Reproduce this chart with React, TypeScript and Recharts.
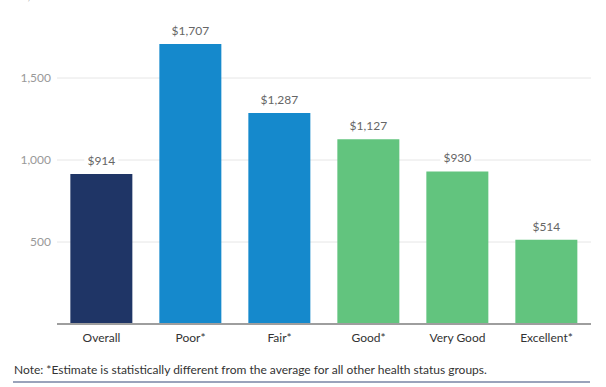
import React from "react";
import { BarChart, Bar, XAxis, YAxis, CartesianGrid, Cell, LabelList } from "recharts";

const categories = ["Overall", "Poor*", "Fair*", "Good*", "Very Good", "Excellent*"];
const values = [914, 1707, 1287, 1127, 930, 514];
const colors = ["#1f3566", "#1589cc", "#1589cc", "#62c47e", "#62c47e", "#62c47e"];
const yTicks = [500, 1000, 1500, 2000];
const note = "Note: *Estimate is statistically different from the average for all other health status groups.";

const data = categories.map((c, i) => ({ name: c, value: values[i], color: colors[i] }));

const fmt = (v: number) => "$" + v.toLocaleString("en-US");

const ValueLabel = (props: any) => {
  const { x, y, width, value } = props;
  const cx = x + width / 2;
  const text = fmt(value);
  const w = text.length * 7 + 6;
  return (
    <g>
      <rect x={cx - w / 2} y={y - 20} width={w} height={14} fill="#fff" />
      <text x={cx} y={y - 9} textAnchor="middle" fill="#666" fontSize={12} fontFamily="Lato">
        {text}
      </text>
    </g>
  );
};

export default function App() {
  return (
    <div style={{ position: "absolute", left: 0, top: 0, width: 606, height: 387, overflow: "hidden", background: "#fff", fontFamily: "Lato" }}>
      <div style={{ position: "absolute", left: 0, top: -20 }}>
        <BarChart width={606} height={370} data={data} margin={{ top: 16, right: 15, left: 0, bottom: 0 }} barCategoryGap="15%">
          <CartesianGrid vertical={false} stroke="#e6e6e6" />
          <XAxis
            dataKey="name"
            axisLine={{ stroke: "#9e9e9e", strokeWidth: 2 }}
            tickLine={false}
            tick={{ fill: "#333", fontSize: 12, fontFamily: "Lato" }}
            height={26}
            tickMargin={3}
          />
          <YAxis
            domain={[0, 2000]}
            ticks={yTicks}
            width={57}
            axisLine={false}
            tickLine={false}
            tickMargin={0}
            tick={{ fill: "#999", fontSize: 12, fontFamily: "Lato" }}
            tickFormatter={(v: number) => v.toLocaleString("en-US")}
          />
          <Bar dataKey="value" isAnimationActive={false}>
            {data.map((d, i) => (
              <Cell key={i} fill={d.color} />
            ))}
            <LabelList dataKey="value" content={ValueLabel} />
          </Bar>
        </BarChart>
      </div>
      <div style={{ position: "absolute", left: 14, top: 362, fontSize: 12, color: "#333", fontFamily: "Lato", whiteSpace: "nowrap" }}>
        {note}
      </div>
      <div style={{ position: "absolute", left: 13, top: 381, width: 577, height: 2, background: "#9aa3bb" }} />
    </div>
  );
}
